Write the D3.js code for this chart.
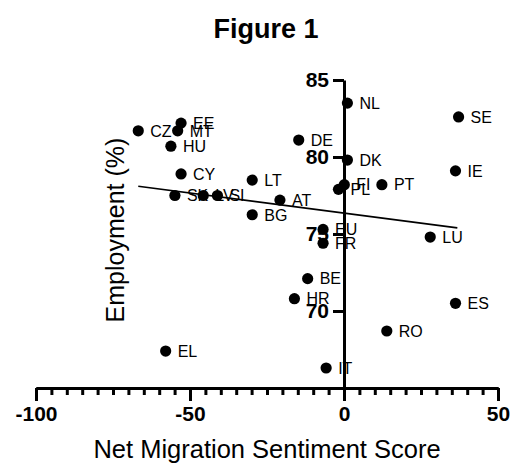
<!DOCTYPE html>
<meta charset="utf-8">
<style>
body { margin: 0; background: #fff; }
text { font-family: Arial, "Liberation Sans", sans-serif; fill: #000; }
.tick text { font-weight: bold; font-size: 21px; }
.axis path, .axis line { stroke: #000; stroke-width: 3; }
</style>
<body>
<svg class="scatter"></svg>
<script src="https://cdn.jsdelivr.net/npm/d3@7"></script>
<script>
// chart size
let rwidth = 512, rheight = 468;

// countries, net migration sentiment score and employment (%)
let codes = ['CZ','EE','MT','HU','CY','SK','LV','SI','LT','AT','BG','DE','NL','SE','DK','IE','FI','PL','PT','LU','EU','FR','BE','HR','ES','RO','IT','EL'];
let sentiment = [-66.8,-52.9,-54.0,-56.2,-52.9,-54.9,-45.7,-41.1,-29.8,-20.8,-29.8,-14.7,1.1,37.2,1.1,36.2,0.1,-1.8,12.3,28.0,-6.8,-6.8,-11.8,-16.1,36.2,13.9,-5.8,-57.9];
let employment = [81.7,82.2,81.7,80.7,78.9,77.5,77.5,77.5,78.5,77.2,76.25,81.1,83.5,82.6,79.8,79.1,78.2,77.9,78.2,74.8,75.3,74.4,72.1,70.8,70.5,68.7,66.3,67.4];

// trend line ends
let trendX = [-66.8, 36.8];
let trendY = [78.1, 75.4];

// ticks
let xMajor = [-100, -50, 0, 50];
let xMinor = d3.range(-100, 51, 5);
let yMajor = [70, 75, 80, 85];

let points = codes.map((c, i) => ({code: c, x: sentiment[i], y: employment[i]}));

let svg = d3.select('.scatter').attr('width', rwidth).attr('height', rheight);

let xscale = d3.scaleLinear().domain([-100, 50]).range([36, 498]);
let yscale = d3.scaleLinear().domain([65, 85]).range([388, 80]);

// x axis: minor ticks then major ticks with labels
svg.append('g').attr('class', 'axis')
   .attr('transform', `translate(0,${yscale(65)})`)
   .call(d3.axisBottom(xscale).tickValues(xMinor).tickSize(7).tickSizeOuter(0).tickFormat(''));
svg.append('g').attr('class', 'axis')
   .attr('transform', `translate(0,${yscale(65)})`)
   .call(d3.axisBottom(xscale).tickValues(xMajor).tickSize(13).tickSizeOuter(0).tickPadding(3).tickFormat(d => String(d)))
   .call(g => g.selectAll('.tick text').attr('dy', '0.8em'));

// y axis crossing at x = 0
svg.append('g').attr('class', 'axis')
   .attr('transform', `translate(${xscale(0)},0)`)
   .call(d3.axisLeft(yscale).tickValues(yMajor).tickSize(11).tickSizeOuter(0).tickPadding(4));

svg.selectAll('.axis text').style('fill', '#000').attr('font-family', null);

// trend line
svg.append('line')
   .attr('x1', xscale(trendX[0])).attr('y1', yscale(trendY[0]))
   .attr('x2', xscale(trendX[1])).attr('y2', yscale(trendY[1]))
   .style('stroke', '#000').style('stroke-width', 1.6);

// point labels
svg.selectAll('.lbl')
   .data(points)
   .join('text')
   .attr('class', 'lbl')
   .attr('x', d => xscale(d.x) + 12)
   .attr('y', d => yscale(d.y))
   .attr('dy', '0.36em')
   .style('font-size', '16px')
   .text(d => d.code);

// dots
svg.selectAll('.dot')
   .data(points)
   .join('circle')
   .attr('class', 'dot')
   .attr('cx', d => xscale(d.x))
   .attr('cy', d => yscale(d.y))
   .attr('r', 5.6)
   .style('fill', '#000');

// titles
svg.append('text')
   .attr('x', 266).attr('y', 38)
   .style('text-anchor', 'middle').style('font-weight', 'bold').style('font-size', '27px')
   .text('Figure 1');

svg.append('text')
   .attr('x', 267).attr('y', 458)
   .style('text-anchor', 'middle').style('font-size', '25.5px')
   .text('Net Migration Sentiment Score');

svg.append('text')
   .attr('transform', 'translate(124,230) rotate(-90)')
   .style('text-anchor', 'middle').style('font-size', '25px')
   .text('Employment (%)');
</script>
</body>
